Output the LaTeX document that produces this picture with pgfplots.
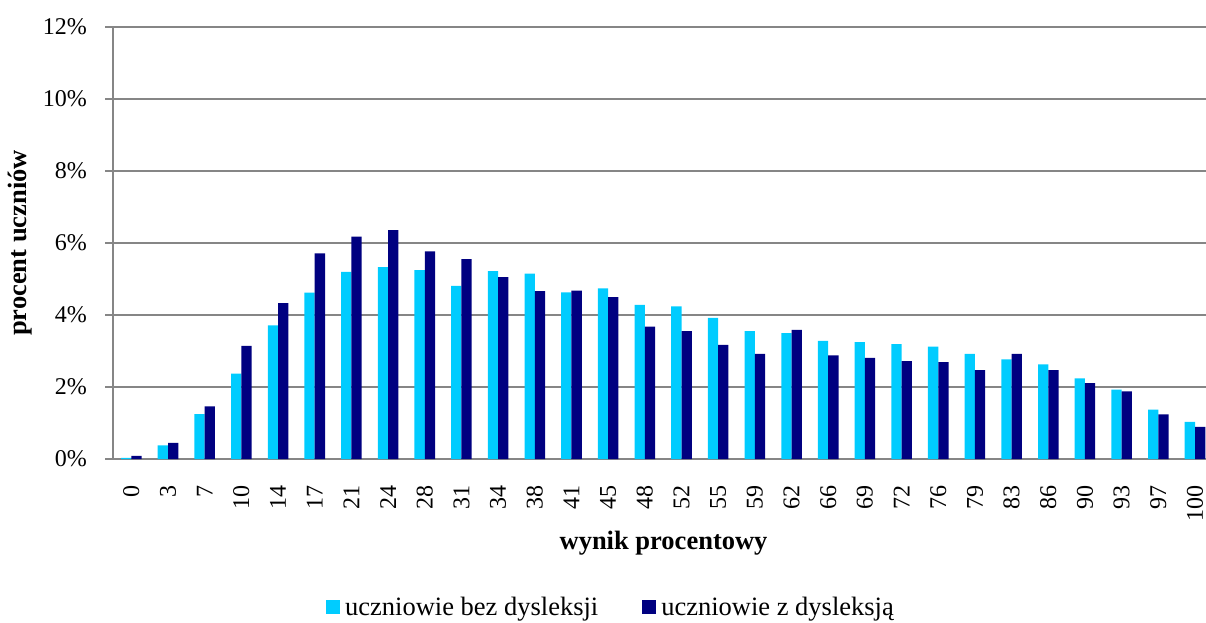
\documentclass[border=0pt]{standalone}
\usepackage{fontspec}
\setmainfont{Liberation Serif}
\usepackage{pgfplots}
\pgfplotsset{compat=1.18}
\definecolor{lightbar}{HTML}{00CCFF}
\definecolor{darkbar}{HTML}{000080}
\definecolor{gridgray}{HTML}{868686}
\begin{document}
\begin{tikzpicture}
\begin{axis}[
  scale only axis, width=1093bp, height=432bp,
  xmin=-0.5, xmax=29.3, ymin=0, ymax=12,
  ybar, bar width=0.28,
  xtick={0,...,29},
  xticklabels={0,3,7,10,14,17,21,24,28,31,34,38,41,45,48,52,55,59,62,66,69,72,76,79,83,86,90,93,97,100},
  xtick style={draw=none},
  ytick={0,2,...,12},
  yticklabel={\pgfmathprintnumber{\tick}\%},
  /pgf/number format/assume math mode=true,
  axis lines*=left,
  axis line style={gridgray, line width=1.5bp},
  ymajorgrids, grid style={gridgray, line width=1.5bp},
  ytick style={gridgray, line width=1.5bp},
  major tick length=8bp, tick align=outside,
  tick label style={font=\fontsize{24bp}{28bp}\selectfont},
  xticklabel style={rotate=90, anchor=east, inner sep=0pt},
  xticklabel shift=18bp,
  yticklabel style={anchor=east, inner sep=0pt},
  yticklabel shift=18bp,
  xlabel={wynik procentowy},
  ylabel={procent uczniów},
  every axis x label/.style={at={(axis description cs:0.5037,-0.1944)}, anchor=center, font=\fontsize{26.5bp}{30bp}\selectfont\bfseries},
  every axis y label/.style={at={(axis description cs:-0.0851,0.5)}, anchor=center, rotate=90, font=\fontsize{26.5bp}{30bp}\selectfont\bfseries},
  legend style={at={(axis description cs:0.4556,-0.3426)}, anchor=center, draw=none, legend columns=2,
    font=\fontsize{26.5bp}{30bp}\selectfont,
    /tikz/every even column/.append style={column sep=42bp}},
  legend image code/.code={\fill[#1] (0bp,-7bp) rectangle (14bp,7bp); \path (17bp,0bp);},
]
\addplot[fill=lightbar, draw=none, bar shift=-0.14] coordinates {
(0,0.03) (1,0.38) (2,1.25) (3,2.37) (4,3.71) (5,4.62) (6,5.20) (7,5.33) (8,5.25) (9,4.81)
(10,5.22) (11,5.15) (12,4.63) (13,4.74) (14,4.28) (15,4.24) (16,3.92) (17,3.55) (18,3.50) (19,3.28)
(20,3.25) (21,3.19) (22,3.12) (23,2.92) (24,2.77) (25,2.63) (26,2.24) (27,1.93) (28,1.37) (29,1.03)};
\addplot[fill=darkbar, draw=none, bar shift=0.14] coordinates {
(0,0.09) (1,0.45) (2,1.46) (3,3.14) (4,4.33) (5,5.71) (6,6.18) (7,6.36) (8,5.77) (9,5.55)
(10,5.05) (11,4.66) (12,4.68) (13,4.50) (14,3.68) (15,3.55) (16,3.17) (17,2.92) (18,3.59) (19,2.88)
(20,2.81) (21,2.72) (22,2.69) (23,2.47) (24,2.92) (25,2.47) (26,2.11) (27,1.88) (28,1.24) (29,0.89)};
\legend{uczniowie bez dysleksji, uczniowie z dysleksją}
\end{axis}
\pgfresetboundingbox
\path[use as bounding box] ([xshift=-113bp,yshift=-163bp]current axis.south west) rectangle ([yshift=27bp]current axis.north east);
\end{tikzpicture}
\end{document}
